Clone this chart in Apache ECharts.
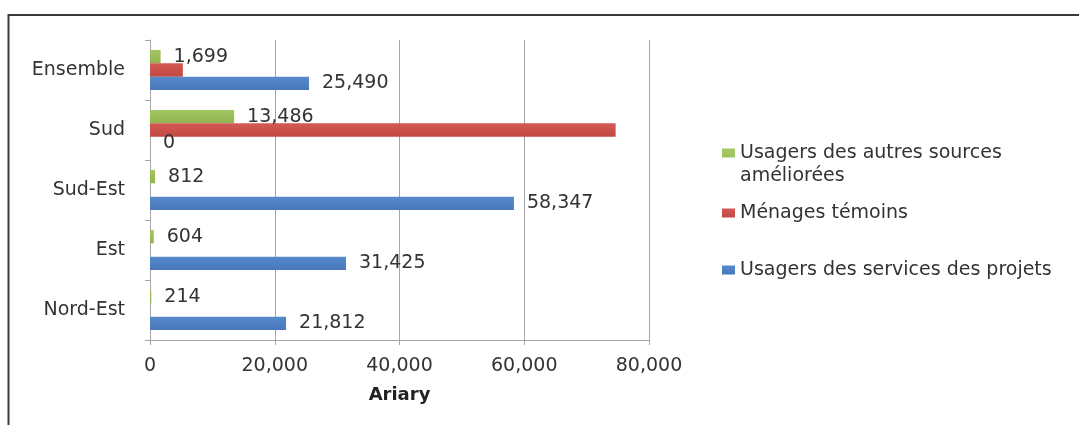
<!DOCTYPE html>
<html>
<head>
<meta charset="utf-8">
<script src="https://cdn.jsdelivr.net/npm/echarts@6/dist/echarts.min.js"></script>
<style>
  html, body { margin: 0; padding: 0; background: #fff; }
  #chart { width: 1079px; height: 425px; }
</style>
</head>
<body>
<div id="chart"></div>
<script>
// Regions, listed bottom to top along the category axis
const regions = ['Nord-Est', 'Est', 'Sud-Est', 'Sud', 'Ensemble'];

// Series names
const nameAutres = 'Usagers des autres sources améliorées';
const nameTemoins = 'Ménages témoins';
const nameProjets = 'Usagers des services des projets';

// Values in Ariary, same order as regions
const autresSources = [214, 604, 812, 13486, 1699];
const menagesTemoins = [0, 0, 0, 74650, 5270];
const servicesProjets = [21812, 31425, 58347, 0, 25490];

// Value-axis ticks
const axisMin = 0;
const axisMax = 80000;
const axisStep = 20000;

const fontFamily = '"DejaVu Sans", sans-serif';
const fontSize = 19;
const textColor = '#333333';
const fmt = v => Number(v).toLocaleString('en-US');

function barGradient(top, bottom) {
  return new echarts.graphic.LinearGradient(0, 0, 0, 1, [
    { offset: 0, color: top },
    { offset: 1, color: bottom }
  ]);
}

const valueLabel = {
  show: true,
  position: 'right',
  distance: 13,
  color: textColor,
  fontFamily: fontFamily,
  fontSize: fontSize,
  formatter: p => fmt(p.value)
};

const legendText = {
  color: textColor,
  fontFamily: fontFamily,
  fontSize: fontSize,
  lineHeight: 23
};

// Square key drawn in the top part of a taller box, so that it lines up
// with the first line of a two-line legend entry.
const tallKey = 'path://M0,0H13V9H0Z M0,32H0.01V32.01H0Z';

const chart = echarts.init(document.getElementById('chart'), null, { renderer: 'canvas' });

chart.setOption({
  backgroundColor: '#ffffff',
  animation: false,
  grid: { left: 150, right: 430, top: 40, bottom: 85, containLabel: false },
  xAxis: {
    type: 'value',
    min: axisMin,
    max: axisMax,
    interval: axisStep,
    name: 'Ariary',
    nameLocation: 'middle',
    nameGap: 46,
    nameTextStyle: { color: '#222', fontFamily: fontFamily, fontSize: 18, fontWeight: 'bold' },
    axisLine: { show: true, lineStyle: { color: '#a6a6a6', width: 1 } },
    axisTick: { show: true, length: 5, lineStyle: { color: '#a6a6a6' } },
    axisLabel: { color: textColor, fontFamily: fontFamily, fontSize: fontSize, margin: 17, formatter: fmt },
    splitLine: { show: true, lineStyle: { color: '#a6a6a6', width: 1 } }
  },
  yAxis: {
    type: 'category',
    data: regions,
    axisLine: { show: true, lineStyle: { color: '#a6a6a6', width: 1 } },
    axisTick: { show: true, length: 5, lineStyle: { color: '#a6a6a6' } },
    axisLabel: { color: textColor, fontFamily: fontFamily, fontSize: fontSize, margin: 25 },
    splitLine: { show: false }
  },
  legend: [
    {
      data: [{ name: nameAutres, icon: tallKey }],
      left: 722, top: 141.5,
      padding: 0,
      itemWidth: 13, itemHeight: 32,
      formatter: () => 'Usagers des autres sources\naméliorées',
      textStyle: legendText
    },
    {
      data: [nameTemoins],
      left: 722, top: 201.5,
      padding: 0,
      icon: 'rect', itemWidth: 13, itemHeight: 9,
      textStyle: legendText
    },
    {
      data: [nameProjets],
      left: 722, top: 258.5,
      padding: 0,
      icon: 'rect', itemWidth: 13, itemHeight: 9,
      textStyle: legendText
    }
  ],
  series: [
    {
      name: nameAutres,
      type: 'bar',
      data: autresSources,
      barGap: '0%',
      barCategoryGap: '33%',
      itemStyle: { color: barGradient('#a3c763', '#92b450') },
      label: valueLabel
    },
    {
      name: nameTemoins,
      type: 'bar',
      data: menagesTemoins,
      itemStyle: { color: barGradient('#d45955', '#c24844') },
      label: { show: false }
    },
    {
      name: nameProjets,
      type: 'bar',
      data: servicesProjets,
      itemStyle: { color: barGradient('#568acd', '#4777ba') },
      label: valueLabel
    }
  ],
  graphic: [
    {
      type: 'rect',
      silent: true,
      shape: { x: 8.5, y: 15, width: 1200, height: 600 },
      style: { fill: 'none', stroke: '#3a3a3a', lineWidth: 2 }
    }
  ]
});
</script>
</body>
</html>
